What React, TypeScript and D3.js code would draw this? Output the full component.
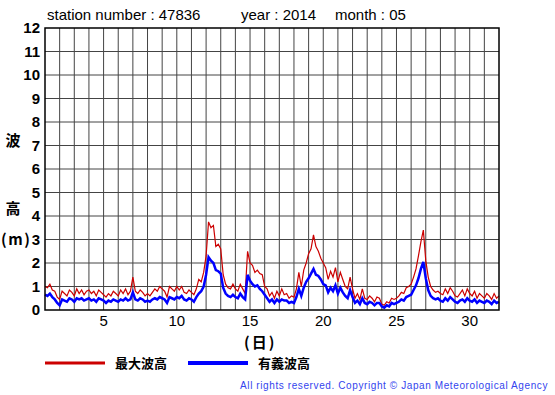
import React, { useEffect, useRef } from 'react';
import * as d3 from 'd3';

// 4-hourly samples from day 1.0 to day 32.0
const maxWave: number[] = [
  1.0, 0.95, 1.1, 0.85, 0.8, 0.55,
  0.45, 0.8, 0.7, 0.6, 0.85, 0.75,
  0.6, 0.9, 0.7, 0.85, 0.65, 0.8,
  0.85, 0.7, 0.8, 0.6, 0.85, 0.75,
  0.65, 0.55, 0.7, 0.6, 0.8, 0.7,
  0.6, 0.85, 0.7, 0.9, 0.65, 0.8,
  1.4, 0.8, 0.7, 0.85, 0.75, 0.6,
  0.7, 0.6, 0.75, 0.9, 0.8, 1.0,
  0.9, 0.8, 0.55, 1.0, 0.9, 0.8,
  1.0, 0.85, 1.0, 0.75, 0.7, 0.85,
  0.75, 0.65, 0.9, 1.3, 1.2, 1.6,
  2.3, 3.75, 3.5, 3.6, 2.7, 2.8,
  2.6, 1.5, 1.1, 0.95, 0.9, 1.1,
  0.9, 0.8, 1.1, 0.9, 0.7, 2.5,
  2.0, 1.9, 1.6, 1.7, 1.55, 1.5,
  1.0, 0.9, 0.6, 0.75, 0.5, 0.8,
  0.6, 0.9, 0.65, 0.7, 0.5, 0.6,
  0.55, 0.9, 1.6, 1.0, 1.7, 2.0,
  2.4, 2.6, 3.2, 2.7, 2.5, 2.2,
  2.0, 1.8, 1.3, 1.65, 1.4, 1.8,
  1.2, 1.6, 1.3, 1.0, 0.9, 1.4,
  0.9, 0.5, 0.7, 0.45, 0.9, 0.5,
  0.45, 0.6, 0.5, 0.35, 0.55, 0.5,
  0.25, 0.2, 0.35, 0.3, 0.5, 0.45,
  0.5, 0.6, 0.75, 0.7, 0.95, 1.0,
  1.1, 1.4, 1.75, 2.3, 2.9, 3.4,
  2.1, 1.4, 1.0, 0.85, 0.75, 0.8,
  0.7, 0.65, 0.9, 0.7, 0.95, 0.8,
  0.6, 0.55, 0.7, 0.85, 0.6, 0.9,
  0.7, 0.6, 0.8, 0.5, 0.7, 0.6,
  0.5, 0.7, 0.6, 0.45, 0.7, 0.5,
  0.6,
];

const sigWave: number[] = [
  0.65, 0.6, 0.7, 0.55, 0.45, 0.3,
  0.2, 0.45, 0.4, 0.35, 0.5, 0.45,
  0.35, 0.5, 0.45, 0.5, 0.4, 0.45,
  0.5, 0.4, 0.45, 0.35, 0.5, 0.45,
  0.4, 0.3, 0.4, 0.35, 0.45, 0.4,
  0.35, 0.45, 0.4, 0.5, 0.4, 0.45,
  0.75, 0.45, 0.4, 0.5, 0.45, 0.35,
  0.4, 0.35, 0.45, 0.5, 0.45, 0.55,
  0.5, 0.45, 0.3, 0.55, 0.5, 0.45,
  0.55, 0.5, 0.6, 0.45, 0.4, 0.5,
  0.45, 0.35, 0.55, 0.7, 0.8, 1.0,
  1.5, 2.25, 2.1, 2.0, 1.7, 1.65,
  1.55, 0.95, 0.7, 0.6, 0.55, 0.65,
  0.55, 0.5, 0.7, 0.55, 0.45, 1.5,
  1.25, 1.1, 1.0, 1.05, 0.9, 0.8,
  0.65, 0.5, 0.35, 0.45, 0.3, 0.45,
  0.35, 0.45, 0.4, 0.4, 0.3, 0.35,
  0.3, 0.55, 0.9, 0.6, 0.95, 1.2,
  1.35, 1.55, 1.75, 1.5, 1.45, 1.3,
  1.1, 1.05, 0.75, 0.95, 0.8, 1.05,
  0.7, 0.95, 0.75, 0.6, 0.5, 0.85,
  0.55, 0.3, 0.4, 0.25, 0.5, 0.3,
  0.25, 0.35, 0.3, 0.2, 0.3, 0.3,
  0.15, 0.1, 0.2, 0.15, 0.3, 0.25,
  0.3, 0.35, 0.45, 0.4, 0.55, 0.6,
  0.65, 0.85, 1.05, 1.35, 1.75, 2.05,
  1.35, 0.85, 0.6, 0.5, 0.45, 0.5,
  0.4, 0.35, 0.5, 0.4, 0.55, 0.45,
  0.35, 0.3, 0.4, 0.45, 0.35, 0.5,
  0.4, 0.35, 0.45, 0.3, 0.4, 0.35,
  0.3, 0.4, 0.35, 0.25, 0.4, 0.3,
  0.35,
];

const yTicks = [0, 1, 2, 3, 4, 5, 6, 7, 8, 9, 10, 11, 12];
const xLabelDays = [5, 10, 15, 20, 25, 30];
const legendNames = ['最大波高', '有義波高'];
const titleParts = ['station number : 47836', 'year : 2014', 'month : 05'];

const App: React.FC = () => {
  const svgRef = useRef<SVGSVGElement>(null);

  useEffect(() => {
    if (!svgRef.current) return;
    const svg = d3.select(svgRef.current);
    svg.selectAll('*').remove();

    const left = 45, right = 499, top = 28, bottom = 310;
    const x = d3.scaleLinear().domain([1, 32]).range([left, right]);
    const y = d3.scaleLinear().domain([0, 12]).range([bottom, top]);
    const font = 'Liberation Sans, Arial, sans-serif';
    const jp = 'Noto Sans CJK JP, sans-serif';

    // grid
    const g = svg.append('g');
    g.selectAll('line.v')
      .data(d3.range(2, 32))
      .join('line')
      .attr('x1', d => x(d)).attr('x2', d => x(d))
      .attr('y1', top).attr('y2', bottom)
      .attr('stroke', '#444').attr('stroke-width', 1);
    g.selectAll('line.h')
      .data(yTicks.slice(1, -1))
      .join('line')
      .attr('x1', left).attr('x2', right)
      .attr('y1', d => y(d)).attr('y2', d => y(d))
      .attr('stroke', '#444').attr('stroke-width', 1);

    const t = (i: number) => 1 + i / 6;
    const line = d3.line<number>()
      .x((_, i) => x(t(i)))
      .y(d => y(d));

    svg.append('path')
      .attr('d', line(maxWave))
      .attr('fill', 'none')
      .attr('stroke', '#cc0000')
      .attr('stroke-width', 1.2);
    svg.append('path')
      .attr('d', line(sigWave))
      .attr('fill', 'none')
      .attr('stroke', '#0000ff')
      .attr('stroke-width', 2.5);

    svg.append('rect')
      .attr('x', left).attr('y', top)
      .attr('width', right - left).attr('height', bottom - top)
      .attr('fill', 'none').attr('stroke', '#000').attr('stroke-width', 1.5);

    // y tick labels
    svg.selectAll('text.yt')
      .data(yTicks)
      .join('text')
      .attr('x', 40).attr('y', d => y(d) + 5)
      .attr('text-anchor', 'end')
      .attr('font-family', font).attr('font-weight', 'bold').attr('font-size', 15)
      .text(d => d);

    // x tick labels
    svg.selectAll('text.xt')
      .data(xLabelDays)
      .join('text')
      .attr('x', d => x(d)).attr('y', 326)
      .attr('text-anchor', 'middle')
      .attr('font-family', font).attr('font-size', 15)
      .text(d => d);

    const titleX = [47, 241, 335];
    titleParts.forEach((s, i) => {
      svg.append('text')
        .attr('x', titleX[i]).attr('y', 20)
        .attr('font-family', font).attr('font-size', 15)
        .text(s);
    });

    svg.append('text').attr('x', 13).attr('y', 146).attr('text-anchor', 'middle')
      .attr('font-family', jp).attr('font-weight', 'bold').attr('font-size', 15).text('波');
    svg.append('text').attr('x', 13).attr('y', 214).attr('text-anchor', 'middle')
      .attr('font-family', jp).attr('font-weight', 'bold').attr('font-size', 15).text('高');
    svg.append('text').attr('x', 1).attr('y', 245)
      .attr('letter-spacing', 1.5)
      .attr('font-family', jp).attr('font-weight', 'bold').attr('font-size', 15).text('(m)');
    svg.append('text').attr('x', 244).attr('y', 348)
      .attr('letter-spacing', 2)
      .attr('font-family', jp).attr('font-weight', 'bold').attr('font-size', 15).text('(日)');

    // legend
    const legend = [
      { name: legendNames[0], color: '#cc0000', w: 3, x0: 45 },
      { name: legendNames[1], color: '#0000ff', w: 4, x0: 188 },
    ];
    legend.forEach(l => {
      svg.append('line')
        .attr('x1', l.x0).attr('x2', l.x0 + 60)
        .attr('y1', 363).attr('y2', 363)
        .attr('stroke', l.color).attr('stroke-width', l.w);
      svg.append('text')
        .attr('x', l.x0 + 70).attr('y', 368)
        .attr('font-family', jp).attr('font-weight', 'bold').attr('font-size', 13)
        .text(l.name);
    });

    svg.append('text')
      .attr('x', 548).attr('y', 389)
      .attr('text-anchor', 'end')
      .attr('font-family', font).attr('font-size', 10)
      .attr('letter-spacing', 0.6)
      .attr('fill', '#3344ee')
      .text('All rights reserved. Copyright © Japan Meteorological Agency');
  }, []);

  return (
    <svg ref={svgRef} width={555} height={395}
      style={{ position: 'absolute', left: 0, top: 0, background: '#fff' }} />
  );
};

export default App;
